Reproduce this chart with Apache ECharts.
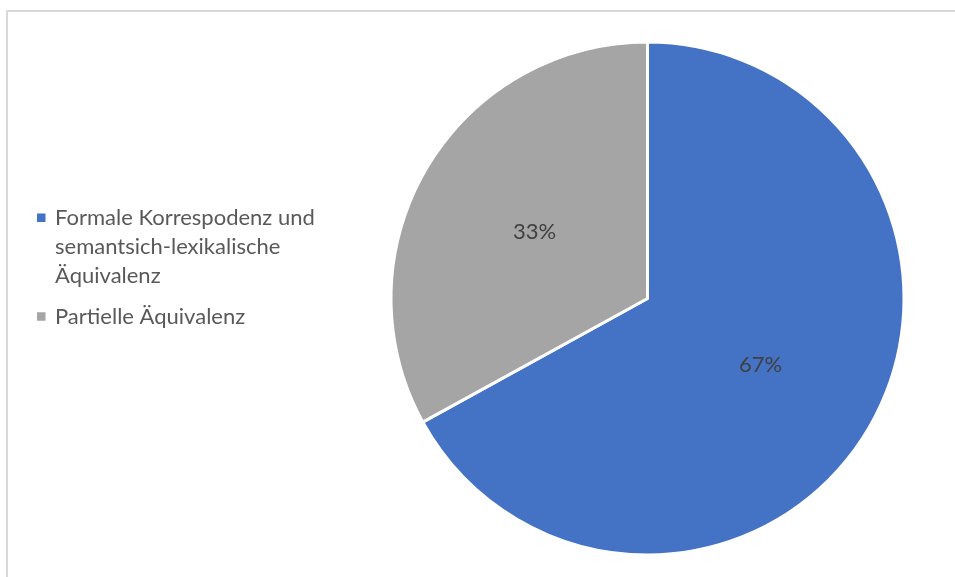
<!DOCTYPE html>
<html>
<head>
<meta charset="utf-8">
<script src="https://cdn.jsdelivr.net/npm/echarts@6/dist/echarts.min.js"></script>
<style>
html,body{margin:0;padding:0;background:#fff;}
#chart{width:955px;height:577px;}
</style>
</head>
<body>
<div id="chart"></div>
<script>
const categories = ["Formale Korrespodenz und semantsich-lexikalische Äquivalenz", "Partielle Äquivalenz"];
const legendLabels = ["Formale Korrespodenz und\nsemantsich-lexikalische\nÄquivalenz", "Partielle Äquivalenz"];
const values = [67, 33];
const colors = ["#4472C4", "#A5A5A5"];

const FONT = "Lato";
const legendText = {fontFamily: FONT, fontSize: 22, color: '#595959', lineHeight: 29};
const chart = echarts.init(document.getElementById('chart'));
chart.setOption({
  animation: false,
  graphic: [{
    type: 'rect', silent: true, z: -1,
    shape: {x: 7, y: 11, width: 1000, height: 700},
    style: {fill: 'none', stroke: '#D9D9D9', lineWidth: 2}
  }],
  legend: [{
    orient: 'vertical', left: 37, top: 203.5, padding: 0,
    itemWidth: 13, itemHeight: 67,
    icon: 'path://M0,0h8.5v8.5h-8.5zM13,67',
    itemStyle: {borderWidth: 0},
    data: [categories[0]],
    formatter: function(n){ return legendLabels[categories.indexOf(n)]; },
    textStyle: legendText
  }, {
    orient: 'vertical', left: 37, top: 302, padding: 0,
    itemWidth: 13, itemHeight: 8.5,
    icon: 'path://M0,0h8.5v8.5h-8.5zM13,8.5',
    itemStyle: {borderWidth: 0},
    data: [categories[1]],
    formatter: function(n){ return legendLabels[categories.indexOf(n)]; },
    textStyle: legendText
  }],
  series: [{
    type: 'pie',
    center: [647.5, 298.5],
    radius: [0, 256.5],
    startAngle: 90,
    clockwise: true,
    data: categories.map((c, i) => ({name: c, value: values[i], itemStyle: {color: colors[i]}})),
    itemStyle: {borderColor: '#fff', borderWidth: 3},
    label: {
      position: 'inside',
      formatter: p => Math.round(p.percent) + '%',
      fontFamily: FONT, fontSize: 22, color: '#404040'
    },
    labelLine: {show: false},
    emphasis: {disabled: true}
  }]
});
</script>
</body>
</html>
